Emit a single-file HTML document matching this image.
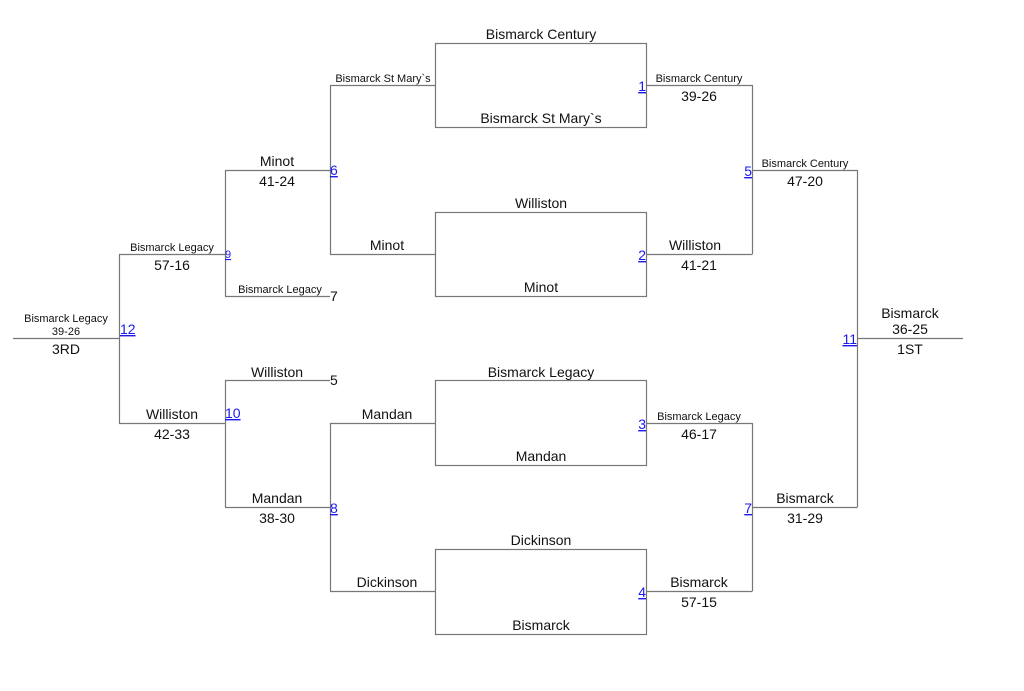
<!DOCTYPE html>
<html><head><style>
html,body{margin:0;padding:0;background:#fff;}
svg{display:block;}
text{font-family:"Liberation Sans",Arial,sans-serif;fill:#111;}
.b{font-size:14px;}
.s{font-size:11px;}
.n{fill:#1a1aee;text-decoration:underline;font-size:14px;}
.ns{fill:#1a1aee;text-decoration:underline;font-size:11px;}
</style></head><body>
<svg width="1024" height="691" viewBox="0 0 1024 691" xmlns="http://www.w3.org/2000/svg">
<g stroke="#777" stroke-width="1.2" fill="none">
<!-- boxes -->
<rect x="435.5" y="43.5" width="211" height="84"/>
<rect x="435.5" y="212.5" width="211" height="84"/>
<rect x="435.5" y="380.5" width="211" height="85"/>
<rect x="435.5" y="549.5" width="211" height="85"/>
<!-- left side -->
<path d="M13 338.5H119.5M119.5 254V423M119 254.5H225.5M119 423.5H225.5"/>
<path d="M225.5 170V296M225 170.5H330.5M225 296.5H330"/>
<path d="M225.5 380V507M225 380.5H330M225 507.5H330.5"/>
<path d="M330.5 85V254M330 85.5H435M330 254.5H435"/>
<path d="M330.5 423V591M330 423.5H435M330 591.5H435"/>
<!-- right side -->
<path d="M646 85.5H752.5M646 254.5H752.5M752.5 85V254M752 170.5H857.5"/>
<path d="M646 423.5H752.5M646 591.5H752.5M752.5 423V591M752 507.5H857.5"/>
<path d="M857.5 170V507M857 338.5H963"/>
</g>
<g text-anchor="middle">
<!-- box labels -->
<text class="b" x="541" y="39">Bismarck Century</text>
<text class="b" x="541" y="123">Bismarck St Mary`s</text>
<text class="b" x="541" y="208">Williston</text>
<text class="b" x="541" y="292">Minot</text>
<text class="b" x="541" y="377">Bismarck Legacy</text>
<text class="b" x="541" y="461">Mandan</text>
<text class="b" x="541" y="545">Dickinson</text>
<text class="b" x="541" y="630">Bismarck</text>
<!-- left round -->
<text class="s" x="383" y="82">Bismarck St Mary`s</text>
<text class="b" x="387" y="250">Minot</text>
<text class="b" x="387" y="419">Mandan</text>
<text class="b" x="387" y="587">Dickinson</text>
<text class="b" x="277" y="166">Minot</text>
<text class="b" x="277" y="186">41-24</text>
<text class="s" x="280" y="293">Bismarck Legacy</text>
<text class="b" x="277" y="377">Williston</text>
<text class="b" x="277" y="503">Mandan</text>
<text class="b" x="277" y="523">38-30</text>
<text class="s" x="172" y="251">Bismarck Legacy</text>
<text class="b" x="172" y="270">57-16</text>
<text class="b" x="172" y="419">Williston</text>
<text class="b" x="172" y="439">42-33</text>
<text class="s" x="66" y="322">Bismarck Legacy</text>
<text class="s" x="66" y="335">39-26</text>
<text class="b" x="66" y="354">3RD</text>
<!-- right -->
<text class="s" x="699" y="82">Bismarck Century</text>
<text class="b" x="699" y="101">39-26</text>
<text class="b" x="695" y="250">Williston</text>
<text class="b" x="699" y="270">41-21</text>
<text class="s" x="699" y="420">Bismarck Legacy</text>
<text class="b" x="699" y="439">46-17</text>
<text class="b" x="699" y="587">Bismarck</text>
<text class="b" x="699" y="607">57-15</text>
<text class="s" x="805" y="167">Bismarck Century</text>
<text class="b" x="805" y="186">47-20</text>
<text class="b" x="805" y="503">Bismarck</text>
<text class="b" x="805" y="523">31-29</text>
<text class="b" x="910" y="318">Bismarck</text>
<text class="b" x="910" y="334">36-25</text>
<text class="b" x="910" y="354">1ST</text>
</g>
<!-- game numbers -->
<text class="n" x="646" y="91" text-anchor="end">1</text>
<text class="n" x="646" y="260" text-anchor="end">2</text>
<text class="n" x="646" y="429" text-anchor="end">3</text>
<text class="n" x="646" y="597" text-anchor="end">4</text>
<text class="n" x="752" y="176" text-anchor="end">5</text>
<text class="n" x="752" y="513" text-anchor="end">7</text>
<text class="n" x="857" y="344" text-anchor="end">11</text>
<text class="n" x="330" y="175">6</text>
<text class="n" x="330" y="513">8</text>
<text class="ns" x="225" y="258">9</text>
<text class="n" x="225" y="418">10</text>
<text class="n" x="120" y="334">12</text>
<text class="b" x="330" y="301">7</text>
<text class="b" x="330" y="385">5</text>
</svg>
</body></html>
